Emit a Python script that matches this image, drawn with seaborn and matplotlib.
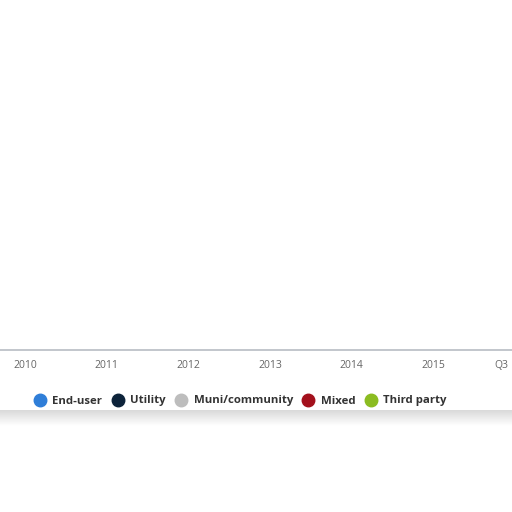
import matplotlib
matplotlib.use("Agg")
import matplotlib.pyplot as plt
from matplotlib.lines import Line2D
import numpy as np
import seaborn as sns

# ── Data ─────────────────────────────────────────────────────────
tick_labels = ["2010", "2011", "2012", "2013", "2014", "2015", "Q3"]
tick_pos = [0, 1, 2, 3, 4, 5, 5.83]
series = ["End-user", "Utility", "Muni/community", "Mixed", "Third party"]
series_colors = ["#2f7ed8", "#0d233a", "#bdbdbd", "#a3101c", "#8bbc21"]

sns.set_theme(style="white")
plt.rcParams["font.family"] = ["Open Sans", "DejaVu Sans"]

fig = plt.figure(figsize=(5.12, 5.12), dpi=100)
fig.patch.set_facecolor("white")

# soft shadow under the torn strip
shade = fig.add_axes([0, (512 - 426) / 512, 1, 16 / 512])
grad = np.linspace(0.85, 1.0, 50).reshape(-1, 1)
shade.imshow(np.repeat(grad, 2, axis=1), cmap="gray", vmin=0, vmax=1,
             aspect="auto", extent=[0, 1, 0, 1], origin="upper")
shade.axis("off")

# axis strip: baseline at y=350px, 2010 at x=25px, 81.7px per year
ax = fig.add_axes([0, (512 - 350) / 512, 1, 0.3])
step = 81.7
ax.set_xlim(-25 / step, (512 - 25) / step)
ax.set_ylim(0, 1)
ax.set_xticks(tick_pos)
ax.set_xticklabels(tick_labels, fontsize=7.5, color="#666666")
ax.tick_params(axis="x", length=0, pad=7)
ax.set_yticks([])
sns.despine(ax=ax, left=True, top=True, right=True)
ax.spines["bottom"].set_color("#b8bcc4")
ax.spines["bottom"].set_linewidth(1.2)
ax.patch.set_alpha(0)

handles = [Line2D([], [], marker="o", linestyle="", markersize=9,
                  markerfacecolor=c, markeredgecolor=c) for c in series_colors]
leg = fig.legend(handles, series, loc="center", ncol=len(series),
                 bbox_to_anchor=(240 / 512, 1 - 401 / 512), frameon=False,
                 handletextpad=0.5, columnspacing=0.75, handlelength=1.2,
                 prop={"size": 8.2, "weight": "bold"})
for t in leg.get_texts():
    t.set_color("#333333")

fig.savefig("out.png", dpi=100, facecolor="white")
